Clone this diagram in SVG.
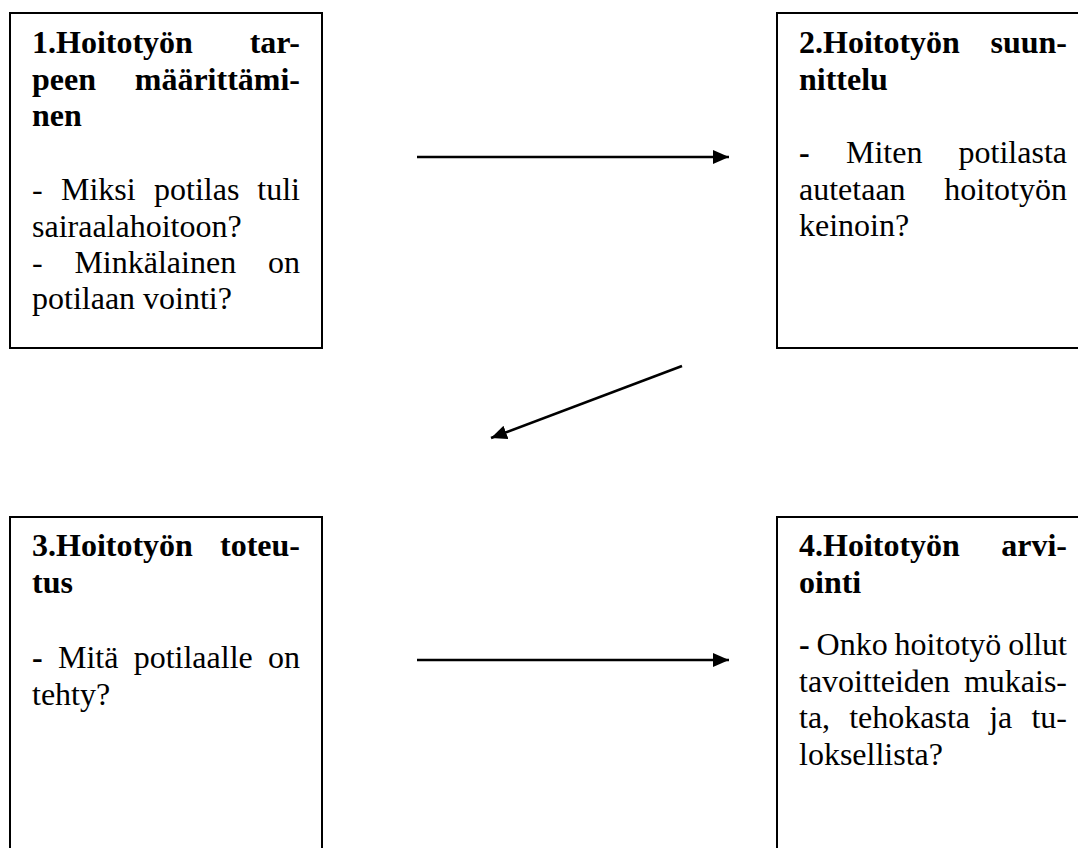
<svg xmlns="http://www.w3.org/2000/svg" width="1078" height="848" viewBox="0 0 1078 848">
  <style>
    .box { fill: #ffffff; stroke: #000000; stroke-width: 2; }
    .t { font-family: "Liberation Serif", "Times New Roman", serif; font-size: 32px; fill: #000000; }
    .b { font-weight: bold; }
    .e { text-anchor: end; }
    .conn { stroke: #000000; stroke-width: 2.5; fill: none; marker-end: url(#arrow); }
  </style>
  <defs>
    <marker id="arrow" markerUnits="userSpaceOnUse" markerWidth="18" markerHeight="16" refX="16" refY="7" orient="auto">
      <path d="M0,0 L16,7 L0,14 Z" fill="#000000"/>
    </marker>
  </defs>

  <rect width="1078" height="848" fill="#ffffff"/>

  <!-- Step 1 -->
  <g id="node-1">
    <rect class="box" x="10" y="13" width="312" height="335"/>
    <text class="t b" x="32" y="53">1.Hoitotyön</text>
    <text class="t b e" x="300" y="53">tar-</text>
    <text class="t b" x="32" y="89.5">peen</text>
    <text class="t b e" x="300" y="89.5">määrittämi-</text>
    <text class="t b" x="32" y="126">nen</text>
    <text class="t" x="32" y="200">-</text>
    <text class="t" x="61" y="200">Miksi</text>
    <text class="t" x="154" y="200">potilas</text>
    <text class="t e" x="300" y="200">tuli</text>
    <text class="t" x="32" y="236.5">sairaalahoitoon?</text>
    <text class="t" x="32" y="273">-</text>
    <text class="t" x="74.4" y="273">Minkälainen</text>
    <text class="t e" x="300" y="273">on</text>
    <text class="t" x="32" y="309">potilaan vointi?</text>
  </g>

  <!-- Step 2 -->
  <g id="node-2">
    <rect class="box" x="777" y="13" width="320" height="335"/>
    <text class="t b" x="799" y="53">2.Hoitotyön</text>
    <text class="t b e" x="1067" y="53">suun-</text>
    <text class="t b" x="799" y="89.5">nittelu</text>
    <text class="t b" x="799" y="163">-</text>
    <text class="t" x="846" y="163">Miten</text>
    <text class="t e" x="1067" y="163">potilasta</text>
    <text class="t" x="799" y="199.5">autetaan</text>
    <text class="t e" x="1067" y="199.5">hoitotyön</text>
    <text class="t" x="799" y="236">keinoin?</text>
  </g>

  <!-- Step 3 -->
  <g id="node-3">
    <rect class="box" x="10" y="517" width="312" height="400"/>
    <text class="t b" x="32" y="556">3.Hoitotyön</text>
    <text class="t b e" x="300" y="556">toteu-</text>
    <text class="t b" x="32" y="592.5">tus</text>
    <text class="t b" x="32" y="668">-</text>
    <text class="t" x="58" y="668">Mitä</text>
    <text class="t" x="133.7" y="668">potilaalle</text>
    <text class="t e" x="300" y="668">on</text>
    <text class="t" x="32" y="704.5">tehty?</text>
  </g>

  <!-- Step 4 -->
  <g id="node-4">
    <rect class="box" x="777" y="517" width="320" height="400"/>
    <text class="t b" x="799" y="556">4.Hoitotyön</text>
    <text class="t b e" x="1067" y="556">arvi-</text>
    <text class="t b" x="799" y="592.5">ointi</text>
    <text class="t b" x="799" y="655">-</text>
    <text class="t" x="816.6" y="655">Onko</text>
    <text class="t" x="894.6" y="655">hoitotyö</text>
    <text class="t e" x="1067" y="655">ollut</text>
    <text class="t" x="799" y="691.5">tavoitteiden</text>
    <text class="t e" x="1067" y="691.5">mukais-</text>
    <text class="t" x="799" y="728">ta,</text>
    <text class="t" x="849.2" y="728">tehokasta</text>
    <text class="t" x="989.2" y="728">ja</text>
    <text class="t e" x="1067" y="728">tu-</text>
    <text class="t" x="799" y="764.5">loksellista?</text>
  </g>

  <!-- Connectors -->
  <g id="connectors">
    <line class="conn" x1="417" y1="157" x2="729" y2="157"/>
    <line class="conn" x1="682" y1="366" x2="491" y2="438"/>
    <line class="conn" x1="417" y1="660" x2="729" y2="660"/>
  </g>
</svg>
